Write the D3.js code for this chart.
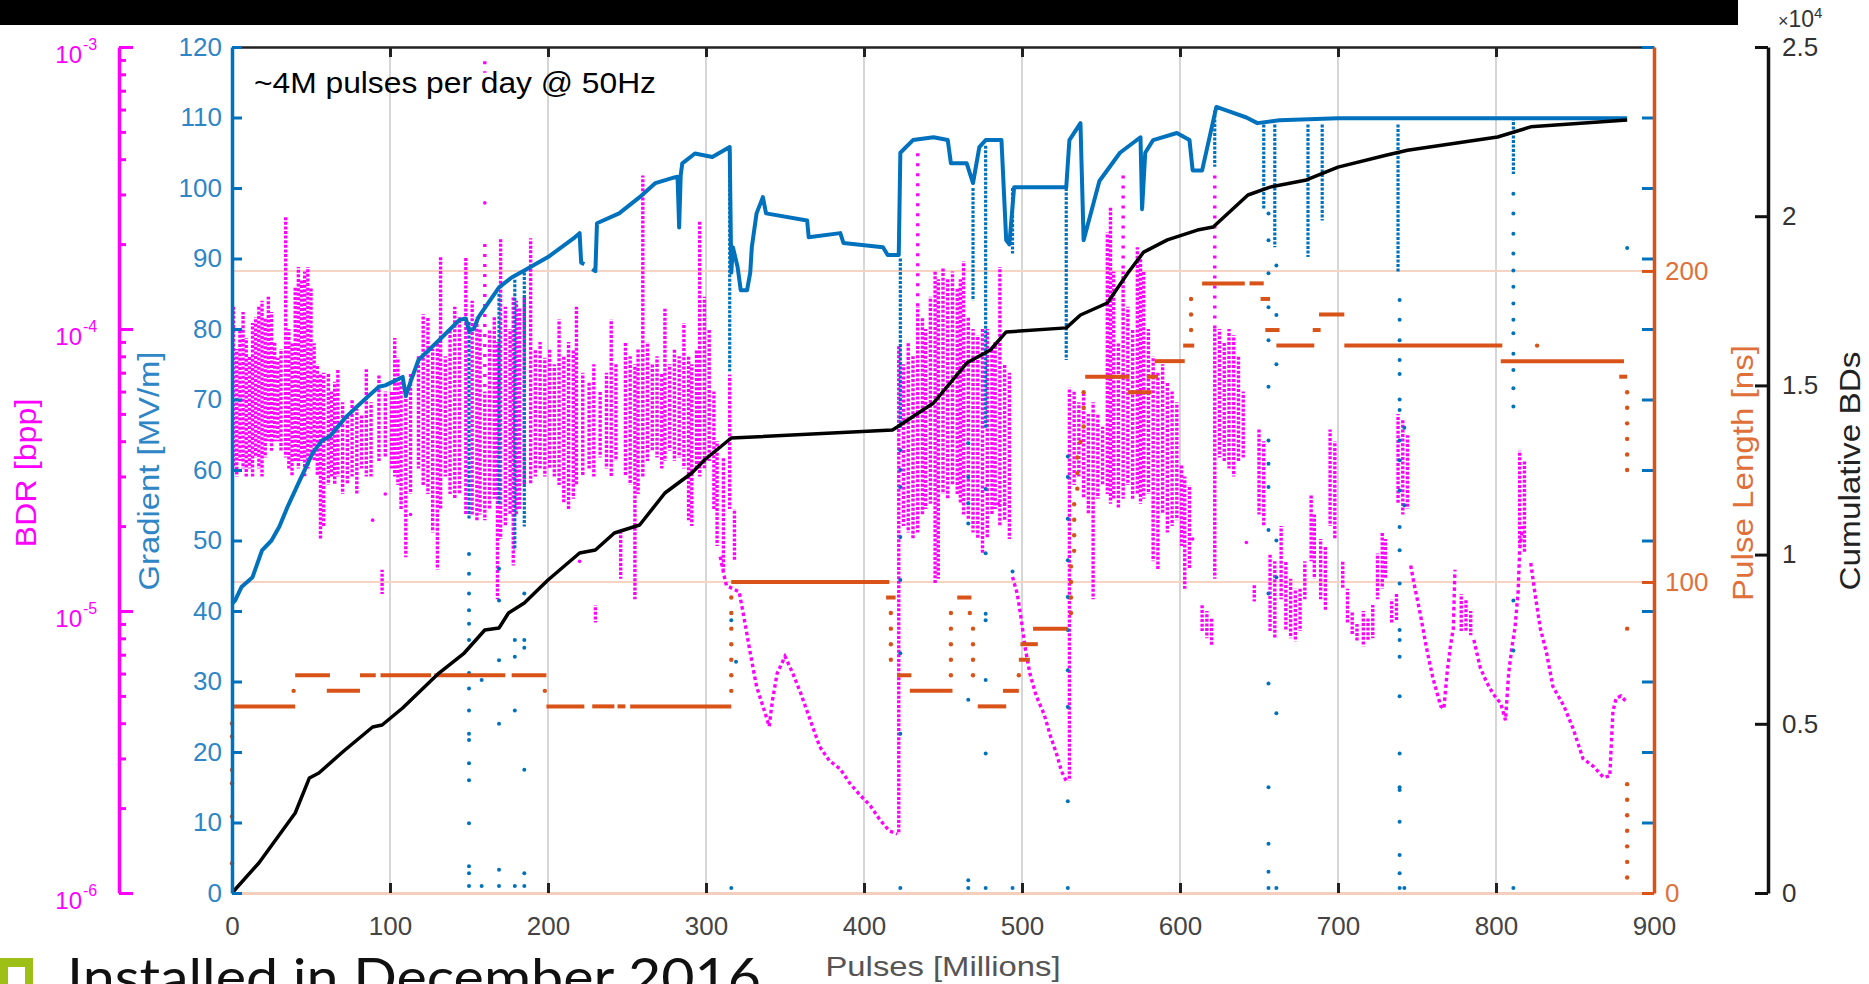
<!DOCTYPE html>
<html>
<head>
<meta charset="utf-8">
<script src="https://cdn.jsdelivr.net/npm/d3@7"></script>
<style>
body { margin: 0; background: #fff; }
svg { display: block; }
</style>
</head>
<body>
<div id="chart"></div>
<script>
// ---- data ----
var xTicks = [0, 100, 200, 300, 400, 500, 600, 700, 800, 900];
var gradTicks = [0, 10, 20, 30, 40, 50, 60, 70, 80, 90, 100, 110, 120];
var pulseTicks = [0, 100, 200];
var cumTicks = [0, 5000, 10000, 15000, 20000, 25000];
var bdrDecades = [1e-6, 1e-5, 1e-4, 1e-3];
var bdrTickValues = [1e-6, 2e-6, 3e-6, 4e-6, 5e-6, 6e-6, 7e-6, 8e-6, 9e-6,
  1e-5, 2e-5, 3e-5, 4e-5, 5e-5, 6e-5, 7e-5, 8e-5, 9e-5,
  1e-4, 2e-4, 3e-4, 4e-4, 5e-4, 6e-4, 7e-4, 8e-4, 9e-4, 1e-3];

// gradient [MV/m] vs pulses [M]; null breaks the line
var gradLine = [[0,41],[2,41.5],[6,43.4],[13,44.8],[19,48.6],[25,50],[30,52],[35,54.7],[42,58.1],[51,62.4],[57,64.2],[62,64.8],
  [72,67.5],[85,70.2],[93,71.8],[97,72],[108,73.2],[110,70.5],[113,72.5],[118,75.6],[131,78.4],[144,81.3],[148,81.5],[150,79.8],
  [153,80],[156,81.7],[169,85.9],[177,87.3],[185,88.3],[200,90.2],[217,93],[220,93.6],[221,89.4],[223,89.2],[225,null],[228,88.5],
  [230,88.2],[231,95],[245,96.4],[258,98.7],[268,100.7],[280,101.5],[282,101.6],[283,94.4],[284,101.8],[285,103.5],[293,104.9],
  [304,104.4],[315,105.8],[316,88],[317,91.6],[320,88.8],[322,85.5],[326,85.5],[328,88],[329,91.6],[332,96.4],[336,98.7],
  [338,96.4],[364,95.4],[365,93],[385,93.6],[387,92.2],[412,91.6],[415,90.5],[422,90.5],[423,105],[431,106.8],[444,107.2],
  [453,106.8],[455,103.5],[465,103.5],[469,100.7],[473,105.8],[477,106.8],[487,106.8],[490,92.6],[492,92],[495,100.1],
  [528,100.1],[530,106.8],[537,109.2],[539,92.6],[549,101],[562,105],[575,107.2],[576,97],[578,105],[583,106.8],[598,107.8],
  [606,106.8],[608,102.5],[614,102.5],[623,111.5],[632,110.8],[642,110],[649,109.2],[663,109.6],[700,109.9],[738,109.9],
  [811,109.9],[883,109.9]];

// dense gradient dropouts [x, top, bottom]
var gradDrops = [[150,81,53],[169,85,55],[179,87,48.6],[185,88,52],[315,105,74],[423,90,66],[469,100,84],[477,106,66],
  [494,100,90.7],[528,100,75.6],[622,111,103],[653,109,97],[660,109,91.6],[681,109,90.2],[690,109,95.4],[738,109,88],[811,110,102]];

// isolated gradient points [x, g]
var gradDots = [
  [150,48.1],[150,45.3],[150,42.5],[150,40.1],[150,38.2],[150,35.9],[150,31.2],[150,29],[150,25.9],[150,22.6],[150,21.7],
  [150,18.4],[150,16],[150,9.9],[150,3.8],[150,2.8],[150,1],[158,30.2],[158,1],
  [169,46],[169,41.5],[169,33],[169,24],[169,3.3],[169,1],[179,35.9],[179,33.5],[179,25.9],[179,1],
  [185,42.5],[185,35.9],[185,34.8],[185,17.5],[185,2.8],[185,1],
  [316,38.7],[316,0.7],[319,32.8],
  [423,62.8],[423,60],[423,57.6],[423,50.5],[423,44.4],[423,34],[423,22.6],[423,0.7],
  [466,63.8],[466,59],[466,55.3],[466,52.4],[466,27.4],[466,1.8],[466,0.7],
  [477,57.3],[477,48.2],[477,39.6],[477,38.7],[477,30.2],[477,19.8],[477,0.7],[494,45.6],[494,0.7],
  [529,61.9],[529,59],[529,53.1],[529,47.2],[529,42],[529,37.3],[529,31.6],[529,26.4],[529,13],[529,0.7],
  [656,96.4],[656,92.6],[656,87.9],[656,83.1],[656,78.4],[656,71.8],[656,64.2],[656,60.9],[656,57.6],[656,51.5],
  [656,42.5],[656,29.7],[656,15],[656,7],[656,3],[656,0.7],
  [661,89],[661,82],[661,75],[661,50],[661,44.8],[661,25.5],[661,0.7],
  [739,84.1],[739,81.3],[739,78.4],[739,75.6],[739,73.6],[739,70],[739,68.5],[739,64.2],[739,61.4],[739,57.1],[739,51.9],
  [739,48.6],[739,43.9],[739,37.3],[739,35.9],[739,33.5],[739,27.9],[739,19.8],[739,15],[739,14.6],[739,10.1],[739,5.4],
  [739,2.8],[739,0.7],[742,66],[742,55],[742,0.7],
  [811,99.2],[811,96.4],[811,93.5],[811,90.7],[811,88.3],[811,86],[811,83.6],[811,81.3],[811,79.4],[811,76.5],[811,74.2],
  [811,71.6],[811,69],[811,41.5],[811,34.4],[811,0.7],[883,91.5]];

// pulse length [ns] plateaus [x1, x2, ns]
var pulseSegs = [[0,40,60],[40,62,70],[60,81,65],[81,91,70],[94,126,70],[128,173,70],[177,199,70],
  [199,223,60],[228,242,60],[244,249,60],[252,316,60],[316,416,100],[414,420,95],[421,430,70],[429,456,65],
  [459,468,95],[472,490,60],[488,498,65],[498,505,75],[499,510,80],[507,529,85],
  [540,568,166],[567,582,161],[579,586,166],[584,603,171],[602,609,176],[614,641,196],[644,653,196],[651,657,191],
  [654,663,181],[661,685,176],[684,689,181],[688,704,186],[704,804,176],[803,881,171],[878,883,166]];

// pulse length single points [x, ns]
var pulseDots = [[0,54.5],[0,50.3],[0,39.6],[0,35.3],[0,24.6],[0,9.6],[39,65],[198,65],
  [316,65],[316,70],[316,75],[316,80],[316,85],[316,90],[316,95],[417,90],[417,85],[417,80],[417,75],
  [455,70],[455,75],[455,80],[455,85],[455,90],[467,90],[469,85],[469,80],[469,75],[469,70],[498,70],
  [531,90],[531,95],[531,100],[531,105],[533,110],[533,115],[533,120],[533,125],[535,130],[535,135],[535,140],
  [537,145],[539,150],[539,156],[539,161],[607,181],[607,186],[607,191],[826,176],
  [883,161],[883,156],[883,151],[883,146],[883,141],[883,136],[883,85],[883,35],[883,30],[883,25],[883,20],
  [883,15],[883,10],[883,5]];

// cumulative breakdowns
var cumLine = [[0,0],[17,887],[40,2364],[49,3400],[55,3546],[70,4166],[89,4905],[95,4964],[108,5467],[131,6500],
  [147,7092],[160,7772],[169,7830],[175,8274],[185,8570],[200,9250],[220,10047],[230,10136],[242,10638],[258,10874],
  [274,11820],[291,12411],[299,12795],[316,13445],[418,13682],[421,13770],[444,14480],[465,15660],[480,16046],
  [490,16580],[528,16700],[537,17080],[554,17435],[567,18320],[577,18940],[592,19300],[611,19590],[621,19680],
  [643,20626],[657,20860],[680,21070],[700,21450],[731,21810],[744,21950],[801,22340],[822,22640],[883,22840]];

// BDR clusters [x, top, bottom] (bpp)
var bdrStreaks = [
  [1,1.2e-4,3.2e-5],[3,8.5e-5,3.0e-5],[5,1.0e-4,3.4e-5],[7,1.15e-4,3.2e-5],[9,9.3e-5,3.0e-5],[11,8.0e-5,3.2e-5],
  [13,1.05e-4,3.0e-5],[15,1.1e-4,3.5e-5],[17,1.2e-4,3.2e-5],[19,1.26e-4,3.0e-5],[21,1.1e-4,3.5e-5],[23,1.3e-4,4.0e-5],
  [25,1.15e-4,3.7e-5],[27,9.0e-5,4.0e-5],[29,7.9e-5,4.0e-5],[31,8.5e-5,3.7e-5],[34,2.5e-4,3.5e-5],[36,1.0e-4,3.2e-5],
  [38,9.0e-5,3.0e-5],[40,1.4e-4,3.4e-5],[42,1.66e-4,3.2e-5],[44,1.5e-4,3.4e-5],[46,1.6e-4,3.0e-5],[48,1.66e-4,3.2e-5],
  [50,1.4e-4,3.5e-5],[52,8.9e-5,3.4e-5],[54,7.5e-5,3.0e-5],[56,6.9e-5,1.8e-5],[58,7.0e-5,2.0e-5],
  [61,7.0e-5,2.8e-5],[63,6.0e-5,3.0e-5],[65,6.5e-5,2.8e-5],[67,7.2e-5,3.0e-5],[70,5.5e-5,2.6e-5],[73,5.0e-5,2.8e-5],
  [76,5.6e-5,3.0e-5],[79,5.2e-5,2.6e-5],[82,5.0e-5,3.2e-5],[85,7.2e-5,3.0e-5],[88,5.5e-5,3.0e-5],[93,6.9e-5,3.4e-5],
  [95,1.4e-5,1.15e-5],[97,6.0e-5,3.5e-5],[101,6.0e-5,3.2e-5],[103,9.3e-5,3.0e-5],[105,7.9e-5,2.8e-5],[107,6.5e-5,2.3e-5],
  [110,6.0e-5,1.55e-5],[113,7.0e-5,2.6e-5],[118,8.0e-5,3.2e-5],[121,1.13e-4,2.8e-5],[124,1.1e-4,2.6e-5],
  [127,8.5e-5,1.9e-5],[130,9.0e-5,1.4e-5],[132,1.8e-4,2.3e-5],[135,8.0e-5,3.0e-5],[138,1.0e-4,2.6e-5],
  [141,1.2e-4,2.5e-5],[144,1.1e-4,2.6e-5],[148,1.8e-4,2.2e-5],[152,1.26e-4,2.2e-5],[155,1.1e-4,2.1e-5],
  [157,1.0e-4,2.2e-5],[160,6.0e-5,2.1e-5],[163,1.0e-4,2.3e-5],[166,1.1e-4,2.5e-5],[168,9.0e-5,1.1e-5],
  [170,2.1e-4,1.8e-5],[173,1.2e-4,2.0e-5],[176,1.0e-4,2.2e-5],[178,1.3e-4,1.45e-5],[180,1.26e-4,2.2e-5],
  [182,1.2e-4,2.3e-5],[185,1.3e-4,2.8e-5],[189,2.1e-4,2.8e-5],[192,8.5e-5,3.0e-5],[195,9.0e-5,3.2e-5],
  [198,7.9e-5,3.0e-5],[201,8.5e-5,3.2e-5],[204,7.5e-5,3.0e-5],[207,1.08e-4,2.8e-5],[210,8.0e-5,2.4e-5],
  [213,9.0e-5,2.3e-5],[216,8.5e-5,2.5e-5],[218,1.2e-4,2.8e-5],[222,7.0e-5,3.0e-5],[226,6.5e-5,3.2e-5],
  [229,7.5e-5,3.0e-5],[230,1.05e-5,9.1e-6],[233,6.0e-5,3.5e-5],[237,7.0e-5,3.2e-5],[240,1.08e-4,3.0e-5],
  [243,7.5e-5,3.4e-5],[246,1.9e-5,1.3e-5],[249,9.0e-5,3.0e-5],[252,8.0e-5,2.8e-5],[255,7.5e-5,1.1e-5],
  [257,8.5e-5,2.6e-5],[260,3.5e-4,3.0e-5],[263,9.0e-5,3.4e-5],[266,7.5e-5,3.7e-5],[269,8.0e-5,3.5e-5],
  [272,7.0e-5,3.2e-5],[274,1.18e-4,3.4e-5],[277,7.5e-5,3.7e-5],[280,8.5e-5,3.4e-5],[283,8.0e-5,3.5e-5],
  [286,1.05e-4,3.2e-5],[289,8.0e-5,2.1e-5],[291,7.5e-5,2.0e-5],[294,8.5e-5,3.2e-5],[296,2.4e-4,3.0e-5],
  [299,1.3e-4,3.2e-5],[302,1.0e-4,3.4e-5],[305,6.0e-5,2.3e-5],[307,4.0e-5,1.7e-5],[311,3.5e-5,1.4e-5],
  [315,6.9e-5,2.3e-5],[318,2.3e-5,1.5e-5],
  [422,8.7e-5,1.62e-6],[425,7.5e-5,2.0e-5],[428,9.0e-5,1.9e-5],[431,8.0e-5,1.8e-5],[434,1.2e-4,1.9e-5],
  [437,1.1e-4,2.2e-5],[439,1.0e-4,2.3e-5],[442,1.3e-4,2.4e-5],[445,1.6e-4,1.25e-5],[447,1.5e-4,1.3e-5],
  [450,1.66e-4,2.6e-5],[453,1.5e-4,2.5e-5],[456,1.6e-4,2.8e-5],[459,1.4e-4,2.6e-5],[461,1.5e-4,2.4e-5],
  [463,1.74e-4,2.2e-5],[466,1.1e-4,2.1e-5],[469,1.0e-4,1.9e-5],[472,9.5e-5,1.8e-5],[475,1.0e-4,1.6e-5],
  [478,1.0e-4,1.8e-5],[481,8.5e-5,2.2e-5],[483,9.0e-5,2.3e-5],[486,1.66e-4,2.0e-5],[489,7.5e-5,2.1e-5],
  [492,7.0e-5,1.8e-5],
  [530,6.2e-5,2.5e-6],[533,6.0e-5,2.8e-5],[536,5.5e-5,3.0e-5],[539,6.0e-5,2.5e-5],[542,5.0e-5,2.2e-5],
  [545,5.5e-5,1.1e-5],[548,5.0e-5,2.5e-5],[551,4.5e-5,2.8e-5],[554,2.2e-4,2.6e-5],[556,2.7e-4,2.4e-5],
  [558,1.6e-4,2.5e-5],[561,9.0e-5,2.3e-5],[564,1.6e-4,2.5e-5],[567,1.2e-4,2.8e-5],[570,1.0e-4,2.5e-5],
  [573,1.95e-4,2.6e-5],[575,1.8e-4,2.4e-5],[577,1.6e-4,2.5e-5],[580,1.0e-4,2.6e-5],[583,8.0e-5,1.5e-5],
  [586,7.0e-5,1.4e-5],[589,7.5e-5,2.2e-5],[592,6.5e-5,1.9e-5],[595,6.0e-5,2.0e-5],[598,5.5e-5,2.1e-5],
  [601,3.3e-5,1.7e-5],[603,3.0e-5,1.2e-5],[606,2.8e-5,1.4e-5],[614,1.05e-5,8.5e-6],[617,1.0e-5,8.0e-6],
  [620,9.5e-6,7.5e-6],[622,1.0e-4,1.3e-5],[625,1.0e-4,3.5e-5],[628,9.0e-5,3.4e-5],[631,1.0e-4,3.2e-5],
  [634,9.5e-5,3.0e-5],[637,8.0e-5,3.4e-5],[640,6.0e-5,3.5e-5],[647,1.25e-5,1.08e-5],[650,4.4e-5,2.2e-5],
  [653,4.0e-5,2.0e-5],[657,1.6e-5,8.5e-6],[660,1.5e-5,8.0e-6],[664,2.0e-5,1.1e-5],[667,1.5e-5,8.5e-6],
  [670,1.3e-5,8.0e-6],[673,1.2e-5,7.8e-6],[676,1.2e-5,8.5e-6],[679,1.5e-5,1.1e-5],[683,2.6e-5,1.5e-5],
  [685,2.2e-5,1.3e-5],[689,1.8e-5,1.1e-5],[692,1.7e-5,1.0e-5],[695,4.4e-5,2.0e-5],[698,4.0e-5,1.8e-5],
  [703,1.5e-5,1.2e-5],[706,1.2e-5,9.0e-6],[709,1.0e-5,8.2e-6],[712,9.0e-6,7.8e-6],[716,1.0e-5,7.5e-6],
  [719,9.5e-6,7.8e-6],[722,1.05e-5,8.0e-6],[725,1.6e-5,1.1e-5],[728,1.9e-5,1.2e-5],[730,1.8e-5,1.3e-5],
  [734,1.1e-5,9.0e-6],[737,1.15e-5,9.2e-6],[738,5.0e-5,2.4e-5],[741,4.8e-5,2.2e-5],[744,4.2e-5,2.3e-5],
  [778,1.15e-5,8.5e-6],[781,1.1e-5,8.5e-6],[784,1.0e-5,8.2e-6],[815,3.7e-5,1.7e-5],[818,3.4e-5,1.6e-5]];

// sparse BDR streaks reaching high values
var bdrSparse = [[160,8.9e-4,8.1e-4],[160,2.0e-4,6.0e-5],[434,4.2e-4,1.2e-4],[564,3.5e-4,1.6e-4],[622,3.5e-4,1.0e-4]];
var bdrDots = [[160,2.8e-4],[89,2.1e-5],[107,2.5e-5],[113,2.2e-5],[97,2.6e-5],[220,1.5e-5],[642,1.75e-5],
  [608,1.8e-5],[485,2.4e-5],[489,2.4e-5]];

// BDR conditioning decays after each step
var bdrDecay1 = [[309,1.56e-5],[312,1.29e-5],[313,1.23e-5],[321,1.17e-5],[324,9.5e-6],[328,7.1e-6],[332,5.4e-6],
  [336,4.6e-6],[340,3.9e-6],[342,4.8e-6],[345,6.0e-6],[350,6.9e-6],[355,6.0e-6],[360,5.1e-6],[366,4.1e-6],
  [372,3.3e-6],[378,2.95e-6],[385,2.75e-6],[391,2.45e-6],[397,2.24e-6],[404,2.04e-6],[410,1.82e-6],[416,1.66e-6],
  [421,1.62e-6]];
var bdrDecay2 = [[494,1.32e-5],[497,1.15e-5],[499,9.8e-6],[502,7.4e-6],[505,6.0e-6],[509,5.0e-6],[514,4.3e-6],
  [518,3.6e-6],[522,3.1e-6],[525,2.7e-6],[528,2.5e-6]];
var bdrDecay3 = [[746,1.45e-5],[748,1.26e-5],[752,9.8e-6],[756,7.4e-6],[760,5.8e-6],[765,4.6e-6],[767,4.5e-6],
  [769,6.0e-6],[771,7.4e-6],[773,8.7e-6],[774,1.4e-5]];
var bdrDecay4 = [[786,7.9e-6],[790,6.3e-6],[794,5.6e-6],[798,5.1e-6],[803,4.7e-6],[806,4.1e-6],[808,6.0e-6],
  [810,7.4e-6],[812,8.7e-6],[814,1.17e-5],[815,1.66e-5],[817,2.0e-5]];
var bdrDecay5 = [[822,1.48e-5],[825,1.12e-5],[828,8.7e-6],[832,7.1e-6],[836,5.4e-6],[843,4.6e-6],[849,3.8e-6],
  [855,3.0e-6],[862,2.8e-6],[868,2.57e-6],[872,2.6e-6],[874,4.4e-6],[876,4.9e-6],[879,5.0e-6],[882,4.8e-6]];

// ---- layout ----
var W = 1869, H = 984;
var plot = { left: 232, right: 1654, top: 47, bottom: 893 };
var magenta = "#FF00FF", blue = "#0072BD", orange = "#D95319";
var font = "'Liberation Sans', Arial, sans-serif";

var svg = d3.select("#chart").append("svg")
  .attr("width", W).attr("height", H);

var x = d3.scaleLinear().domain([0, 900]).range([plot.left, plot.right]);
var yG = d3.scaleLinear().domain([0, 120]).range([plot.bottom, plot.top]);
var yB = d3.scaleLog().domain([1e-6, 1e-3]).range([plot.bottom, plot.top]);
var yP = d3.scaleLinear().domain([0, 272]).range([plot.bottom, plot.top]);
var yC = d3.scaleLinear().domain([0, 25000]).range([plot.bottom, plot.top]);

// header bar of the slide
svg.append("rect").attr("x", 0).attr("y", 0).attr("width", 1738).attr("height", 25).attr("fill", "#000");

// grid
svg.append("g").selectAll("line").data(xTicks.slice(1, -1)).join("line")
  .attr("x1", d => x(d)).attr("x2", d => x(d))
  .attr("y1", plot.top).attr("y2", plot.bottom)
  .attr("stroke", "#d6d6d6").attr("stroke-width", 2);
svg.append("g").selectAll("line").data(pulseTicks.slice(1)).join("line")
  .attr("x1", plot.left).attr("x2", plot.right)
  .attr("y1", d => yP(d)).attr("y2", d => yP(d))
  .attr("stroke", "#f6d3c3").attr("stroke-width", 2);

// BDR (magenta) - dotted markers, offsets varied so the dots don't line up
var gB = svg.append("g").attr("stroke", magenta).attr("fill", "none").attr("stroke-width", 3.4);
gB.selectAll("line.dense").data(bdrStreaks).join("line").attr("class", "dense")
  .attr("x1", d => x(d[0])).attr("x2", d => x(d[0]))
  .attr("y1", d => yB(d[1])).attr("y2", d => yB(d[2]))
  .attr("stroke-dasharray", "3,1.6").attr("stroke-dashoffset", (d, i) => (i * 1.7) % 4.6);
gB.selectAll("line.sparse").data(bdrSparse).join("line").attr("class", "sparse")
  .attr("x1", d => x(d[0])).attr("x2", d => x(d[0]))
  .attr("y1", d => yB(d[1])).attr("y2", d => yB(d[2]))
  .attr("stroke-dasharray", "3,7");
var bdrLine = d3.line().x(d => x(d[0])).y(d => yB(d[1]));
gB.selectAll("path").data([bdrDecay1, bdrDecay2, bdrDecay3, bdrDecay4, bdrDecay5]).join("path")
  .attr("d", bdrLine).attr("stroke-dasharray", "3.5,3");
svg.append("g").selectAll("circle").data(bdrDots).join("circle")
  .attr("cx", d => x(d[0])).attr("cy", d => yB(d[1])).attr("r", 1.8).attr("fill", magenta);

// gradient (blue)
var gradPath = d3.line().defined(d => d[1] != null).x(d => x(d[0])).y(d => yG(d[1]));
svg.append("path").datum(gradLine)
  .attr("fill", "none").attr("stroke", blue).attr("stroke-width", 4)
  .attr("stroke-linejoin", "round").attr("d", gradPath);
svg.append("g").selectAll("line").data(gradDrops).join("line")
  .attr("x1", d => x(d[0])).attr("x2", d => x(d[0]))
  .attr("y1", d => yG(d[1])).attr("y2", d => yG(d[2]))
  .attr("stroke", blue).attr("stroke-width", 3.2).attr("stroke-dasharray", "3,1.5");
svg.append("g").selectAll("circle").data(gradDots).join("circle")
  .attr("cx", d => x(d[0])).attr("cy", d => yG(d[1])).attr("r", 2).attr("fill", blue);

// pulse length (orange)
svg.append("g").selectAll("line").data(pulseSegs).join("line")
  .attr("x1", d => x(d[0])).attr("x2", d => x(d[1]))
  .attr("y1", d => yP(d[2])).attr("y2", d => yP(d[2]))
  .attr("stroke", orange).attr("stroke-width", 4);
svg.append("g").selectAll("circle").data(pulseDots).join("circle")
  .attr("cx", d => x(d[0])).attr("cy", d => yP(d[1])).attr("r", 2.2).attr("fill", orange);

// cumulative BDs (black)
svg.append("path").datum(cumLine)
  .attr("fill", "none").attr("stroke", "#000").attr("stroke-width", 3.5)
  .attr("stroke-linejoin", "round")
  .attr("d", d3.line().x(d => x(d[0])).y(d => yC(d[1])));

// ---- axes ----
function styleAxis(g, color, size) {
  g.attr("font-family", font).attr("font-size", size).attr("color", color);
  g.selectAll(".tick line").attr("stroke-width", 3);
}

// top box edge
var topAx = svg.append("g").attr("transform", "translate(0," + plot.top + ")")
  .call(d3.axisBottom(x).tickValues(xTicks.slice(1, -1)).tickSize(10).tickSizeOuter(0).tickFormat(""));
styleAxis(topAx, "#222", 26);
topAx.select(".domain").attr("stroke-width", 2.5);

// bottom x axis
var botAx = svg.append("g").attr("transform", "translate(0," + plot.bottom + ")")
  .call(d3.axisBottom(x).tickValues(xTicks).tickSize(-10).tickSizeOuter(0).tickPadding(24));
styleAxis(botAx, "#222", 26);
botAx.select(".domain").attr("stroke", "#f5cfbd").attr("stroke-width", 3);
botAx.selectAll("text").attr("fill", "#444");

// right-side blue ticks
var gRight = svg.append("g").attr("transform", "translate(" + plot.right + ",0)")
  .call(d3.axisRight(yG).tickValues(gradTicks).tickSize(-12).tickSizeOuter(0).tickFormat(""));
styleAxis(gRight, blue, 26);
gRight.select(".domain").remove();

// pulse length axis
var pAx = svg.append("g").attr("transform", "translate(" + plot.right + ",0)")
  .call(d3.axisRight(yP).tickValues(pulseTicks).tickSize(-12).tickSizeOuter(0).tickPadding(11));
styleAxis(pAx, orange, 26);
pAx.select(".domain").attr("stroke-width", 3.5);
pAx.selectAll("text").attr("fill", "#e0703a");

// gradient axis
var gAx = svg.append("g").attr("transform", "translate(" + plot.left + ",0)")
  .call(d3.axisLeft(yG).tickValues(gradTicks).tickSize(-10).tickSizeOuter(0).tickPadding(10));
styleAxis(gAx, blue, 26);
gAx.select(".domain").attr("stroke-width", 3.5);
gAx.selectAll("text").attr("fill", "#2f86c6");

// BDR log axis
var bAx = svg.append("g").attr("transform", "translate(119,0)")
  .call(d3.axisLeft(yB).tickValues(bdrTickValues).tickSize(-7).tickSizeOuter(0).tickFormat(""));
styleAxis(bAx, magenta, 24);
bAx.select(".domain").attr("stroke-width", 3.5);
bAx.selectAll(".tick line").filter(d => bdrDecades.indexOf(d) >= 0).attr("x2", 14);
var bLab = svg.append("g").attr("fill", magenta).attr("font-family", font);
bLab.selectAll("text.base").data(bdrDecades).join("text").attr("class", "base")
  .attr("x", 82).attr("y", d => yB(d) + 16).attr("text-anchor", "end").attr("font-size", 24).text("10");
bLab.selectAll("text.exp").data(bdrDecades).join("text").attr("class", "exp")
  .attr("x", 83).attr("y", d => yB(d) + 3).attr("font-size", 16)
  .text(d => "-" + Math.round(-Math.log10(d)));

// cumulative axis
var cAx = svg.append("g").attr("transform", "translate(1768,0)")
  .call(d3.axisRight(yC).tickValues(cumTicks).tickSize(-13).tickSizeOuter(0).tickPadding(14)
    .tickFormat(d => String(d / 1e4)));
styleAxis(cAx, "#111", 26);
cAx.select(".domain").attr("stroke-width", 3.5);
cAx.selectAll("text").attr("fill", "#333");
var mult = svg.append("text").attr("x", 1778).attr("y", 27).attr("font-family", font).attr("fill", "#333");
mult.append("tspan").attr("font-size", 18).text("\u00d7");
mult.append("tspan").attr("font-size", 23).text("10");
mult.append("tspan").attr("font-size", 15).attr("dy", -9).text("4");

// axis titles
function vTitle(cx, cy, txt, color, len) {
  svg.append("text").attr("transform", "translate(" + cx + "," + cy + ") rotate(-90)")
    .attr("text-anchor", "middle").attr("dominant-baseline", "central")
    .attr("font-family", font).attr("font-size", 29).attr("fill", color)
    .attr("textLength", len).attr("lengthAdjust", "spacingAndGlyphs").text(txt);
}
vTitle(26, 473, "BDR [bpp]", magenta, 149);
vTitle(149, 471, "Gradient [MV/m]", "#2f86c6", 239);
vTitle(1743, 473, "Pulse Length [ns]", "#e0703a", 256);
vTitle(1850, 471, "Cumulative BDs", "#222", 239);

svg.append("text").attr("x", 943).attr("y", 976).attr("text-anchor", "middle")
  .attr("font-family", font).attr("font-size", 28).attr("fill", "#555")
  .attr("textLength", 235).attr("lengthAdjust", "spacingAndGlyphs").text("Pulses [Millions]");

svg.append("text").attr("x", 254).attr("y", 93)
  .attr("font-family", font).attr("font-size", 30).attr("fill", "#000")
  .attr("textLength", 402).attr("lengthAdjust", "spacingAndGlyphs").text("~4M pulses per day @ 50Hz");

// slide bullet below the chart (cut by the frame, as in the slide)
svg.append("rect").attr("x", 0).attr("y", 958).attr("width", 33).attr("height", 40).attr("fill", "#9dbf16");
svg.append("rect").attr("x", 8).attr("y", 967).attr("width", 17).attr("height", 30).attr("fill", "#fff");
svg.append("text").attr("x", 67).attr("y", 996)
  .attr("font-family", "Lato, 'DejaVu Sans', sans-serif").attr("font-size", 52).attr("fill", "#111")
  .attr("textLength", 694).attr("lengthAdjust", "spacingAndGlyphs").text("Installed in December 2016");
</script>
</body>
</html>
